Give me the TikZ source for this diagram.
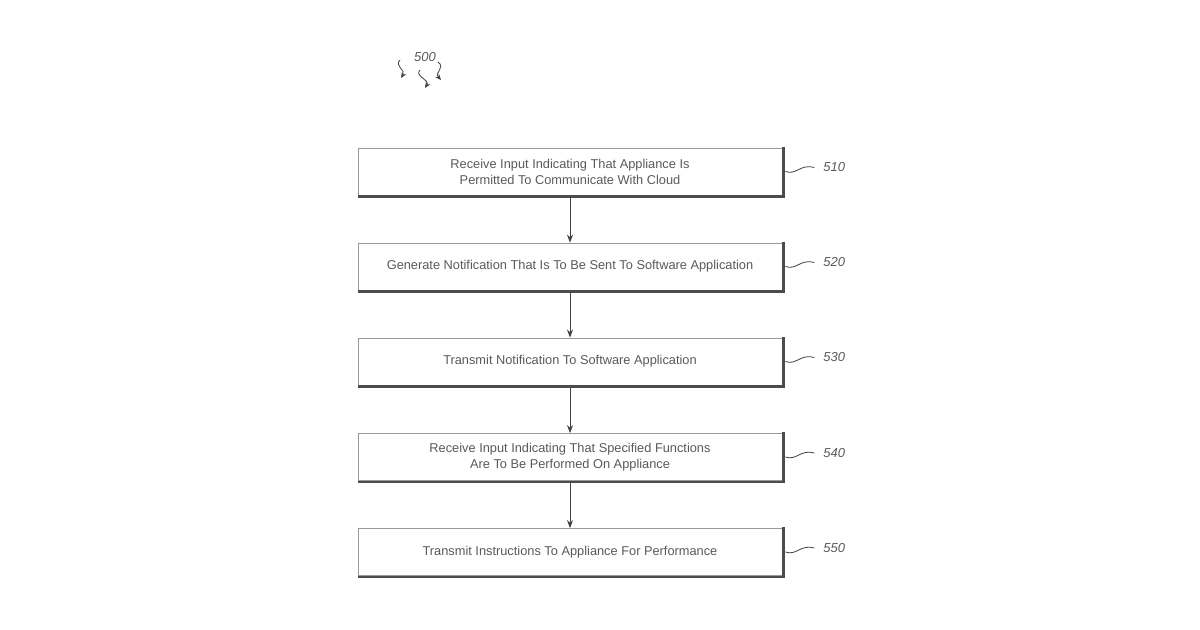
\documentclass[tikz,border=0pt]{standalone}
\usepackage{fontspec}
\setmainfont{Liberation Sans}
\usetikzlibrary{arrows.meta}
\tikzset{
  stepbox/.style={draw=gray!80, line width=0.4pt, minimum width=212pt, minimum height=23.5pt,
    align=center, inner sep=0pt, font=\fontsize{6.4}{8}\selectfont\color{gray!70!black}},
  reflabel/.style={font=\fontsize{6.5}{8}\selectfont\itshape\color{gray!70!black}, anchor=west},
  flow/.style={-{Stealth[length=4pt,width=3pt]}, draw=gray!50!black, line width=0.5pt},
  squig/.style={-{Stealth[length=3pt,width=2.5pt]}, draw=gray!50!black, line width=0.4pt}
}
\begin{document}
\begin{tikzpicture}[x=1pt, y=1pt]
    \useasboundingbox (0,0) rectangle (600,-315);

    % Kennzeichen 500
    \node[reflabel, anchor=center] (fig) at (212.5,-28.5) {500};
    \coordinate (s1a) at (200,-30);  \coordinate (s1b) at (200.5,-39);
    \coordinate (s2a) at (210,-35);  \coordinate (s2b) at (212.5,-44);
    \coordinate (s3a) at (219,-31);  \coordinate (s3b) at (220.5,-40);
    \draw[squig] (s1a) .. controls (197,-33) and (203,-35) .. (s1b);
    \draw[squig] (s2a) .. controls (207,-38) and (215,-40) .. (s2b);
    \draw[squig] (s3a) .. controls (223,-34) and (217,-36) .. (s3b);

    % Schritte
    \node[stepbox] (b510) at (285,-85.75) {Receive Input Indicating That Appliance Is\\Permitted To Communicate With Cloud};
    \node[stepbox] (b520) at (285,-133.25) {Generate Notification That Is To Be Sent To Software Application};
    \node[stepbox] (b530) at (285,-180.75) {Transmit Notification To Software Application};
    \node[stepbox] (b540) at (285,-228.5) {Receive Input Indicating That Specified Functions\\Are To Be Performed On Appliance};
    \node[stepbox] (b550) at (285,-276) {Transmit Instructions To Appliance For Performance};

    % Schatten und Bezugszeichen
    \foreach \n in {510,520,530,540,550} {
        \draw[gray!60!black, line width=1.3pt]
            ([xshift=0.6pt,yshift=0.4pt]b\n.north east) -- ([xshift=0.6pt,yshift=-0.6pt]b\n.south east)
            -- ([xshift=0.2pt,yshift=-0.6pt]b\n.south west);
        \coordinate (w\n) at ([xshift=16pt,yshift=2pt]b\n.east);
        \draw[gray!50!black, line width=0.4pt] ([xshift=1.5pt]b\n.east)
            .. controls ([xshift=7pt,yshift=-2pt]b\n.east) and ([xshift=9pt,yshift=4pt]b\n.east) .. (w\n);
        \node[reflabel] (l\n) at ([xshift=1pt]w\n) {\n};
    }

    % Ablauf
    \draw[flow] ([yshift=-1pt]b510.south) -- (b520.north);
    \draw[flow] ([yshift=-1pt]b520.south) -- (b530.north);
    \draw[flow] ([yshift=-1pt]b530.south) -- (b540.north);
    \draw[flow] ([yshift=-1pt]b540.south) -- (b550.north);
\end{tikzpicture}
\end{document}
